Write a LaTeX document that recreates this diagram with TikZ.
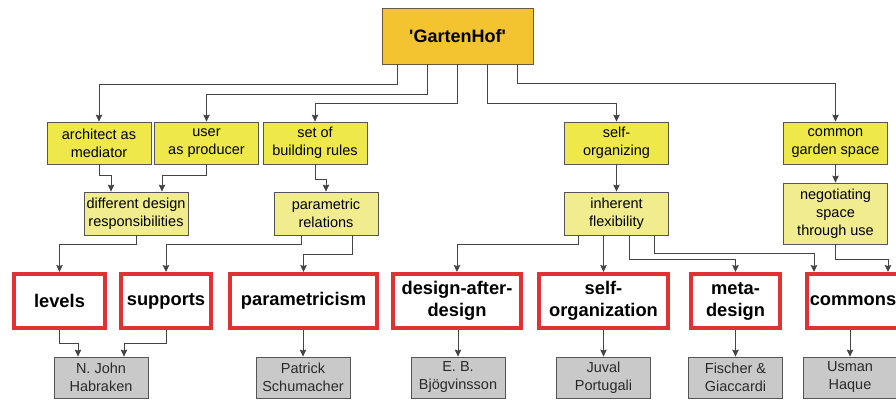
\documentclass[tikz,border=0pt]{standalone}
\usepackage{fontspec}
\setmainfont{Liberation Sans}[Ligatures=TeXOff]
\usetikzlibrary{arrows.meta}

\definecolor{hofgold}{HTML}{F4C430}
\definecolor{hofedge}{HTML}{6B5A3A}
\definecolor{ideayellow}{HTML}{EEE84B}
\definecolor{relyellow}{HTML}{F1EC8E}
\definecolor{conceptred}{HTML}{E03232}
\definecolor{persongray}{HTML}{C9C9C9}
\definecolor{boxgray}{HTML}{555555}
\definecolor{linegray}{HTML}{444444}
\definecolor{textgray}{HTML}{2A2A2A}

\begin{document}
\begin{tikzpicture}[x=1pt,y=-1pt,
		link/.style={draw=linegray, line width=0.8pt, -{Stealth[length=7pt,width=6.5pt,inset=1pt]}},
		topic/.style={draw=hofedge, fill=hofgold, line width=0.8pt, minimum width=151pt, minimum height=56pt, inner sep=0pt, font=\bfseries\fontsize{18}{22}\selectfont},
		idea/.style={draw=boxgray, fill=ideayellow, line width=0.8pt, minimum width=104pt, minimum height=42pt, inner sep=0pt, align=center, font=\fontsize{14.5}{18}\selectfont},
		relation/.style={idea, fill=relyellow, minimum height=43pt},
		concept/.style={draw=conceptred, fill=white, line width=4pt, minimum height=54pt, inner sep=0pt, outer sep=2pt, align=center, font=\bfseries\fontsize{18.3}{22}\selectfont},
		person/.style={draw=boxgray, fill=persongray, line width=0.8pt, minimum width=94pt, minimum height=41pt, inner sep=0pt, align=center, text=textgray, font=\fontsize{14.5}{18}\selectfont}]

	\useasboundingbox (0,0) rectangle (896,401);
	\clip (0,0) rectangle (896,401);

	\node[topic] (hof) at (457.5,36) {'GartenHof'};

	% second row
	\node[idea] (mediator) at (99,143) {architect as\\mediator};
	\node[idea] (producer) at (206.5,143) {user\\as producer};
	\node[idea] (rules) at (315,143) {set of\\building rules};
	\node[idea] (selforg) at (616.5,143) {self-\\organizing};
	\node[idea] (garden) at (835.5,143) {common\\garden space};

	% third row
	\node[relation] (resp) at (136,213.5) {different design\\responsibilities};
	\node[relation] (relations) at (326,213.5) {parametric\\relations};
	\node[relation] (flex) at (616.5,213.5) {inherent\\flexibility};
	\node[relation, minimum height=61pt] (negot) at (835.5,213.5) {negotiating\\space\\through use};

	% concepts
	\node[concept, minimum width=91pt] (levels) at (59.5,301) {levels};
	\node[concept, minimum width=90pt] (supports) at (166,301) {supports};
	\node[concept, minimum width=147pt] (parametricism) at (303.5,301) {parametricism};
	\node[concept, minimum width=128pt] (dad) at (457,301) {design-after-\\design};
	\node[concept, minimum width=129pt] (selforganization) at (603.5,301) {self-\\organization};
	\node[concept, minimum width=89pt] (metadesign) at (735.5,301) {meta-\\design};
	\node[concept, minimum width=92pt] (commons) at (853,301) {commons};

	% authors
	\node[person] (habraken) at (101,377.5) {N. John\\Habraken};
	\node[person] (schumacher) at (303,377.5) {Patrick\\Schumacher};
	\node[person] (bjogvinsson) at (458,377.5) {E. B.\\Bjögvinsson};
	\node[person] (portugali) at (603.5,377.5) {Juval\\Portugali};
	\node[person] (fischer) at (735.5,377.5) {Fischer \&\\Giaccardi};
	\node[person] (haque) at (850,377.5) {Usman\\Haque};

	% from the top
	\draw[link] ([xshift=-60pt]hof.south) -- ++(0,20) -| (mediator.north);
	\draw[link] ([xshift=-30pt]hof.south) -- ++(0,30) -| (producer.north);
	\draw[link] (hof.south) -- ++(0,39) -| (rules.north);
	\draw[link] ([xshift=30pt]hof.south) -- ++(0,39) -| (selforg.north);
	\draw[link] ([xshift=60pt]hof.south) -- ++(0,19) -| (garden.north);

	\draw[link] (mediator.south) -- ++(0,11) -| ([xshift=-25pt]resp.north);
	\draw[link] (producer.south) -- ++(0,11) -| ([xshift=26pt]resp.north);
	\draw[link] (rules.south) -- ++(0,15) -| (relations.north);
	\draw[link] (selforg.south) -- (flex.north);
	\draw[link] (garden.south) -- (negot.north);

	\draw[link] (resp.south) -- ++(0,9) -| (levels.north);
	\draw[link] ([xshift=-25pt]relations.south) -- ++(0,9) -| (supports.north);
	\draw[link] ([xshift=26pt]relations.south) -- ++(0,19) -| (parametricism.north);
	\draw[link] ([xshift=-38pt]flex.south) -- ++(0,9) -| (dad.north);
	\draw[link] (flex.south -| selforganization.north) -- (selforganization.north);
	\draw[link] ([xshift=13pt]flex.south) -- ++(0,24) -| (metadesign.north);
	\draw[link] ([xshift=38pt]flex.south) -- ++(0,18) -| ([xshift=-39pt]commons.north);
	\draw[link] (negot.south) -- ++(0,15) -| ([xshift=35pt]commons.north);

	\draw[link] (levels.south) -- ++(0,13) -| ([xshift=-23pt]habraken.north);
	\draw[link] (supports.south) -- ++(0,13) -| ([xshift=23pt]habraken.north);
	\foreach \c/\p in {parametricism/schumacher, dad/bjogvinsson, selforganization/portugali, metadesign/fischer, commons/haque}
		\draw[link] (\c.south -| \p.north) -- (\p.north);
\end{tikzpicture}
\end{document}
